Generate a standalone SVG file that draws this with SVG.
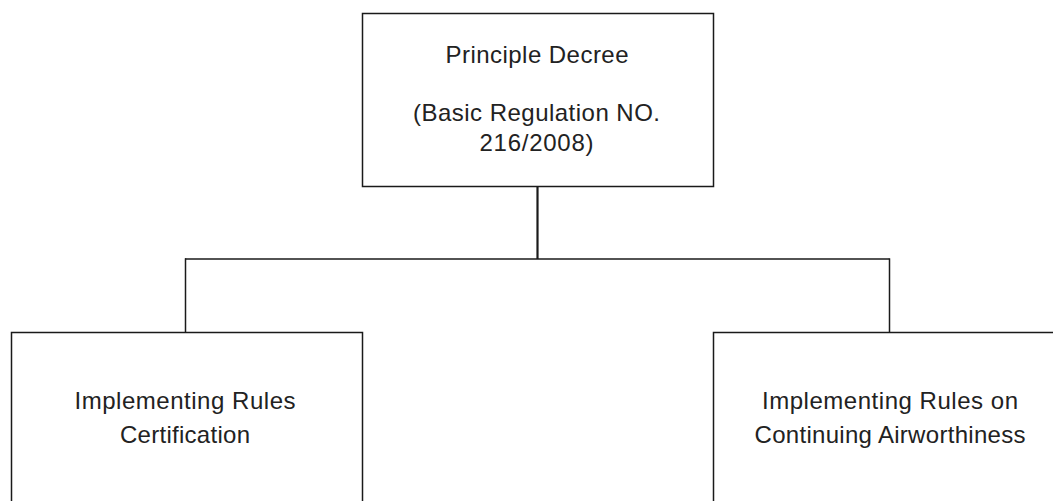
<svg xmlns="http://www.w3.org/2000/svg" width="1053" height="501" viewBox="0 0 1053 501">
  <style>
    .box { fill: #ffffff; stroke: #1a1a1a; stroke-width: 1.5; }
    .link { fill: none; stroke: #1a1a1a; stroke-width: 1.5; }
    .stem { stroke-width: 2.2; }
    .label { font-family: "Liberation Sans", Arial, sans-serif; font-size: 24px; fill: #222222; text-anchor: middle; }
  </style>
  <rect width="1053" height="501" fill="#ffffff"/>

  <!-- connectors: trunk from the decree, crossbar, and drops to each rule set -->
  <g id="connectors">
    <path class="link stem" d="M537.5 186 V259"/>
    <path class="link" d="M185 259 H889.5"/>
    <path class="link" d="M185.5 258.3 V332"/>
    <path class="link" d="M889.5 258.3 V332"/>
  </g>

  <g id="node-principle-decree">
    <rect class="box" x="362.5" y="13.5" width="351" height="173"/>
    <text class="label" x="537" y="63" textLength="183" lengthAdjust="spacing">Principle Decree</text>
    <text class="label" x="536.5" y="121" textLength="247" lengthAdjust="spacing">(Basic Regulation NO.</text>
    <text class="label" x="536.5" y="151" textLength="114" lengthAdjust="spacing">216/2008)</text>
  </g>

  <g id="node-certification">
    <rect class="box" x="11.5" y="332.5" width="351" height="200"/>
    <text class="label" x="185" y="409" textLength="221" lengthAdjust="spacing">Implementing Rules</text>
    <text class="label" x="185" y="443" textLength="130" lengthAdjust="spacing">Certification</text>
  </g>

  <g id="node-airworthiness">
    <rect class="box" x="713.5" y="332.5" width="351" height="200"/>
    <text class="label" x="890" y="409" textLength="256" lengthAdjust="spacing">Implementing Rules on</text>
    <text class="label" x="890" y="443" textLength="271" lengthAdjust="spacing">Continuing Airworthiness</text>
  </g>
</svg>
